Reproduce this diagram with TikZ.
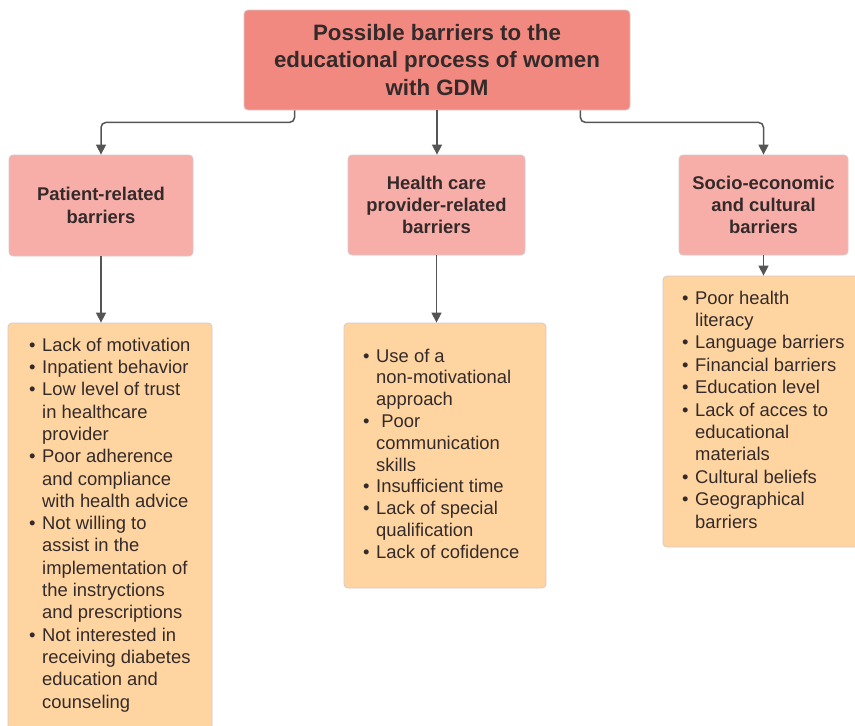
\documentclass[tikz,border=0pt]{standalone}
\usepackage{fontspec}
\setmainfont{Liberation Sans}
\usetikzlibrary{arrows.meta}
\definecolor{topc}{RGB}{241,137,129}
\definecolor{subc}{RGB}{247,173,168}
\definecolor{listc}{RGB}{254,213,161}
\definecolor{txtc}{RGB}{52,42,42}
\definecolor{arrc}{RGB}{85,85,85}
\definecolor{edgec}{RGB}{215,200,200}
\newcommand\myb{\makebox[13pt][l]{•}}
\newcommand\myi{\hspace*{13pt}}
\begin{document}
\begin{tikzpicture}[x=1pt,y=-1pt,
  box/.style={draw=edgec, line width=0.8pt, rounded corners=4pt, inner sep=0pt},
  titlebox/.style={box, fill=topc, text=txtc, align=center, font=\bfseries\fontsize{22.3}{27.5}\selectfont},
  subbox/.style={box, fill=subc, text=txtc, align=center, font=\bfseries\fontsize{18.4}{22.3}\selectfont},
  listbox/.style={box, fill=listc},
  listtext/.style={anchor=north west, inner sep=0pt, align=left, text=txtc},
  arr/.style={draw=arrc, line width=1.5pt, -{Triangle[length=10pt,width=10pt]}, rounded corners=5pt}
]
\clip (0,0) rectangle (855,726);
\useasboundingbox (0,0) rectangle (855,726);

\node[titlebox, minimum width=386pt, minimum height=100pt] (top) at (437,60)
  {Possible barriers to the\\educational process of women\\with GDM};

\node[subbox, minimum width=184pt, minimum height=101pt] (pat) at (101,205.5)
  {Patient-related\\barriers};
\node[subbox, minimum width=177pt, minimum height=100pt] (hc) at (436.5,205)
  {Health care\\provider-related\\barriers};
\node[subbox, minimum width=169pt, minimum height=100pt] (soc) at (763.5,205)
  {Socio-economic\\and cultural\\barriers};

\node[listbox, minimum width=204pt, minimum height=422pt] (patbox) at (110,534) {};
\node[listbox, minimum width=202pt, minimum height=265pt] (hcbox) at (445,455.5) {};
\node[listbox, minimum width=207pt, minimum height=271pt] (socbox) at (766.5,411.5) {};

\node[listtext, font=\fontsize{18.4}{22.3}\selectfont] (patlist) at (29,335.4)
  {\strut\myb Lack of motivation\\
   \myb Inpatient behavior\\
   \myb Low level of trust\\
   \myi in healthcare\\
   \myi provider\\
   \myb Poor adherence\\
   \myi and compliance\\
   \myi with health advice\\
   \myb Not willing to\\
   \myi assist in the\\
   \myi implementation of\\
   \myi the instryctions\\
   \myi and prescriptions\\
   \myb Not interested in\\
   \myi receiving diabetes\\
   \myi education and\\
   \myi counseling};

\node[listtext, font=\fontsize{18.4}{21.8}\selectfont] (hclist) at (363,346.7)
  {\strut\myb Use of a\\
   \myi non-motivational\\
   \myi approach\\
   \myb\ Poor\\
   \myi communication\\
   \myi skills\\
   \myb Insufficient time\\
   \myb Lack of special\\
   \myi qualification\\
   \myb Lack of cofidence};

\node[listtext, font=\fontsize{18.4}{22.4}\selectfont] (soclist) at (682,288.3)
  {\strut\myb Poor health\\
   \myi literacy\\
   \myb Language barriers\\
   \myb Financial barriers\\
   \myb Education level\\
   \myb Lack of acces to\\
   \myi educational\\
   \myi materials\\
   \myb Cultural beliefs\\
   \myb Geographical\\
   \myi barriers};

\draw[arr] ([xshift=51pt]top.south west) -- ++(0,12) -| (pat.north);
\draw[arr] (top.south) -- (top.south |- hc.north);
\draw[arr] ([xshift=-50pt]top.south east) -- ++(0,12) -| (soc.north);

\draw[arr] (pat.south) -- (pat.south |- patbox.north);
\draw[arr] (hc.south) -- (hc.south |- hcbox.north);
\draw[arr] (soc.south) -- (soc.south |- socbox.north);
\end{tikzpicture}
\end{document}
